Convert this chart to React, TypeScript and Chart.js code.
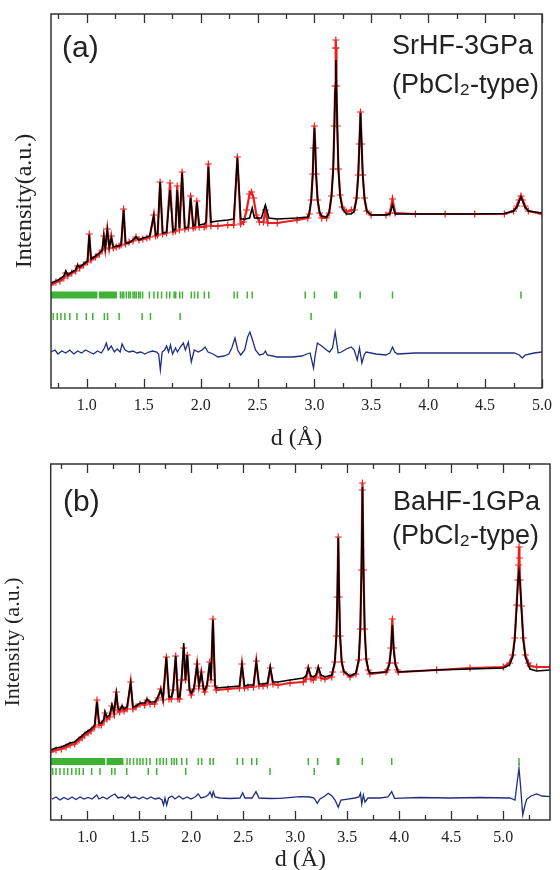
import React, { useEffect, useRef } from "react";
import { Chart, registerables } from "chart.js";

Chart.register(...registerables);

const SERIF = "'Liberation Serif', 'Times New Roman', serif";
const SANS = "'Liberation Sans', Arial, sans-serif";
const RED = "rgb(232,32,32)";
const BLACK = "#000";
const BLUE = "rgb(32,46,128)";
const GREEN = "rgb(62,178,52)";

type Pair = [number, number];

// ---------------- Panel (a): SrHF-3GPa ----------------
const X_RANGE_A: Pair = [0.685, 5.0];
const Y_MAX_A = 374;
const X_MAJOR_A = [1.0, 1.5, 2.0, 2.5, 3.0, 3.5, 4.0, 4.5, 5.0];
const X_MINOR_A = [0.75, 1.25, 1.75, 2.25, 2.75, 3.25, 3.75, 4.25, 4.75];

const CALC_A: Pair[] = [
  [0.685, 105], [0.728, 107], [0.763, 109], [0.798, 112], [0.815, 117], [0.833, 113], [0.867, 116],
  [0.902, 118], [0.919, 123], [0.937, 121], [0.971, 124], [1.006, 127], [1.021, 153], [1.037, 129],
  [1.076, 132], [1.11, 135], [1.136, 138], [1.149, 152], [1.162, 140], [1.18, 158], [1.197, 141],
  [1.215, 150], [1.232, 141], [1.258, 142], [1.284, 142], [1.302, 144], [1.323, 178], [1.34, 145],
  [1.371, 145], [1.406, 148], [1.432, 151], [1.458, 148], [1.492, 150], [1.527, 151], [1.553, 152],
  [1.588, 172], [1.605, 153], [1.622, 154], [1.644, 206], [1.666, 155], [1.701, 156], [1.731, 198],
  [1.757, 157], [1.779, 159], [1.794, 198], [1.814, 160], [1.837, 215], [1.861, 160], [1.892, 161],
  [1.912, 190], [1.935, 162], [1.952, 163], [1.967, 186], [1.987, 163], [2.031, 164], [2.048, 166],
  [2.068, 221], [2.09, 166], [2.152, 167], [2.239, 168], [2.291, 169], [2.323, 230], [2.352, 169],
  [2.395, 169], [2.43, 170], [2.453, 180], [2.473, 170], [2.534, 170], [2.569, 183], [2.599, 170],
  [2.673, 169], [2.847, 170], [2.942, 171], [2.955, 175], [2.972, 188], [2.985, 213], [2.992, 238],
  [3.0, 260], [3.008, 238], [3.015, 213], [3.028, 188], [3.045, 176], [3.064, 172], [3.107, 171],
  [3.13, 176], [3.15, 192], [3.165, 218], [3.175, 260], [3.182, 298], [3.188, 328], [3.194, 298],
  [3.201, 260], [3.211, 218], [3.226, 192], [3.246, 179], [3.281, 174], [3.324, 174], [3.35, 177],
  [3.37, 189], [3.385, 212], [3.395, 243], [3.405, 275], [3.415, 243], [3.425, 212], [3.44, 189],
  [3.46, 177], [3.498, 173], [3.628, 173], [3.663, 174], [3.686, 183], [3.71, 174], [3.888, 174],
  [4.149, 174], [4.409, 174], [4.669, 174.5], [4.75, 177], [4.78, 181], [4.8, 187], [4.815, 191],
  [4.83, 187], [4.85, 181], [4.88, 177], [5.0, 175],
];

const OBS_A: Pair[] = [
  [0.685, 103], [0.728, 106], [0.763, 107], [0.798, 110], [0.815, 115], [0.833, 112], [0.867, 115],
  [0.902, 117], [0.919, 122], [0.937, 120], [0.971, 123], [1.006, 126], [1.021, 154], [1.037, 128],
  [1.076, 131], [1.11, 134], [1.136, 138], [1.149, 152], [1.162, 139], [1.18, 159], [1.197, 140],
  [1.215, 152], [1.232, 140], [1.258, 141], [1.284, 142], [1.302, 143], [1.323, 179], [1.34, 144],
  [1.371, 146], [1.406, 147], [1.432, 151], [1.458, 148], [1.492, 149], [1.527, 150], [1.553, 151],
  [1.588, 173], [1.605, 152], [1.622, 153], [1.644, 206], [1.666, 154], [1.701, 155], [1.731, 205],
  [1.757, 156], [1.779, 157], [1.794, 202], [1.814, 158], [1.837, 216], [1.861, 159], [1.892, 160],
  [1.912, 192], [1.935, 160], [1.952, 161], [1.967, 187], [1.987, 161], [2.031, 161], [2.048, 162],
  [2.068, 224], [2.09, 162], [2.152, 162], [2.239, 163], [2.291, 163], [2.323, 231], [2.352, 164],
  [2.378, 166], [2.404, 178], [2.43, 194], [2.447, 196], [2.465, 190], [2.49, 173], [2.517, 166],
  [2.552, 166], [2.569, 178], [2.59, 165], [2.673, 165], [2.847, 168], [2.942, 170], [2.955, 174],
  [2.972, 188], [2.985, 214], [2.992, 240], [3.0, 262], [3.008, 240], [3.015, 214], [3.028, 188],
  [3.045, 175], [3.064, 170], [3.107, 170], [3.13, 175], [3.15, 192], [3.165, 219], [3.175, 262],
  [3.182, 302], [3.186, 340], [3.188, 348], [3.19, 340], [3.194, 302], [3.201, 262], [3.211, 219],
  [3.226, 193], [3.246, 181], [3.281, 176], [3.324, 178], [3.35, 178], [3.37, 190], [3.385, 213],
  [3.395, 244], [3.405, 276], [3.415, 244], [3.425, 213], [3.44, 190], [3.46, 177], [3.498, 173],
  [3.628, 173], [3.663, 175], [3.686, 189], [3.71, 175], [3.888, 174], [4.149, 174], [4.409, 174],
  [4.669, 174], [4.75, 177], [4.78, 182], [4.8, 188], [4.815, 192], [4.83, 188], [4.85, 182],
  [4.88, 177], [5.0, 174],
];

const DIFF_A: Pair[] = [
  [0.685, 36], [0.72, 38], [0.746, 34], [0.78, 37], [0.815, 35], [0.85, 38], [0.885, 34], [0.919, 37],
  [0.954, 35], [0.989, 38], [1.024, 36], [1.058, 34], [1.093, 37], [1.128, 35], [1.154, 40], [1.171, 45],
  [1.188, 38], [1.215, 42], [1.241, 36], [1.267, 39], [1.293, 36], [1.31, 44], [1.336, 38], [1.371, 36],
  [1.406, 37], [1.44, 35], [1.475, 36], [1.51, 34], [1.544, 36], [1.579, 37], [1.614, 36], [1.631, 34],
  [1.646, 18], [1.662, 36], [1.683, 38], [1.701, 42], [1.718, 36], [1.735, 43], [1.753, 34], [1.779, 40],
  [1.796, 36], [1.822, 41], [1.848, 45], [1.866, 38], [1.892, 46], [1.918, 26], [1.944, 38], [1.979, 36],
  [2.013, 38], [2.039, 41], [2.065, 36], [2.109, 34], [2.152, 31], [2.204, 32], [2.248, 34], [2.274, 40],
  [2.302, 50], [2.326, 38], [2.352, 33], [2.387, 38], [2.413, 51], [2.433, 56], [2.456, 48], [2.482, 38],
  [2.517, 33], [2.552, 34], [2.569, 37], [2.586, 33], [2.673, 31], [2.803, 31], [2.89, 32], [2.933, 34],
  [2.962, 35], [2.992, 20], [3.007, 33], [3.026, 45], [3.064, 42], [3.107, 38], [3.133, 36], [3.159, 40],
  [3.182, 56], [3.209, 35], [3.237, 36], [3.281, 39], [3.324, 41], [3.35, 38], [3.376, 28], [3.396, 40],
  [3.417, 25], [3.437, 33], [3.454, 36], [3.541, 34], [3.628, 33], [3.663, 35], [3.686, 41], [3.706, 36],
  [3.73, 34], [3.888, 35], [4.149, 35], [4.409, 35], [4.583, 35], [4.756, 35], [4.8, 33], [4.826, 30],
  [4.852, 33], [4.93, 35], [5.0, 36],
];

const TICK_ROWS_A = [93, 71.5];
const TICK_BLOCKS_A1: Pair[] = [[0.685, 1.093], [1.107, 1.264]];
const TICKS_A1 = [
  1.295, 1.31, 1.325, 1.347, 1.368, 1.382, 1.406, 1.42, 1.434, 1.455, 1.469, 1.49, 1.55, 1.59, 1.623,
  1.657, 1.701, 1.729, 1.767, 1.781, 1.816, 1.84, 1.918, 1.946, 1.976, 2.033, 2.071, 2.294, 2.323, 2.41,
  2.453, 2.919, 3.0, 3.179, 3.194, 3.402, 3.686, 4.815,
];
const TICKS_A2 = [
  0.705, 0.74, 0.772, 0.807, 0.85, 0.913, 0.995, 1.052, 1.154, 1.182, 1.284, 1.486, 1.559, 1.82, 2.971,
];

// ---------------- Panel (b): BaHF-1GPa ----------------
const X_RANGE_B: Pair = [0.648, 5.449];
const Y_MAX_B = 356;
const X_MAJOR_B = [1.0, 1.5, 2.0, 2.5, 3.0, 3.5, 4.0, 4.5, 5.0];
const X_MINOR_B = [0.75, 1.25, 1.75, 2.25, 2.75, 3.25, 3.75, 4.25, 4.75, 5.25];

const CALC_B: Pair[] = [
  [0.648, 70], [0.699, 72], [0.75, 73], [0.795, 75], [0.834, 77], [0.879, 78], [0.92, 82], [0.949, 84],
  [0.975, 87], [1.007, 89], [1.036, 91], [1.071, 95], [1.093, 118], [1.113, 97], [1.135, 97], [1.16, 101],
  [1.17, 108], [1.189, 103], [1.215, 105], [1.237, 115], [1.257, 108], [1.279, 127], [1.295, 112],
  [1.311, 110], [1.334, 114], [1.353, 111], [1.382, 113], [1.417, 137], [1.439, 113], [1.468, 114],
  [1.507, 117], [1.552, 117], [1.574, 121], [1.603, 118], [1.648, 118], [1.68, 123], [1.706, 130],
  [1.728, 121], [1.76, 163], [1.786, 123], [1.808, 123], [1.825, 130], [1.85, 164], [1.872, 123],
  [1.888, 123], [1.906, 140], [1.927, 177], [1.944, 140], [1.961, 165], [1.983, 130], [2.0, 127],
  [2.026, 132], [2.055, 155], [2.074, 135], [2.096, 147], [2.117, 132], [2.129, 130], [2.151, 135],
  [2.177, 157], [2.189, 140], [2.208, 200], [2.228, 135], [2.24, 132], [2.353, 133], [2.463, 134],
  [2.487, 155], [2.511, 134], [2.545, 135], [2.598, 135], [2.625, 158], [2.651, 136], [2.689, 136],
  [2.732, 137], [2.759, 153], [2.785, 138], [2.834, 138], [2.949, 140], [3.077, 142], [3.103, 144],
  [3.125, 152], [3.151, 144], [3.173, 143], [3.199, 145], [3.221, 153], [3.247, 145], [3.285, 143],
  [3.35, 145], [3.36, 149], [3.38, 158], [3.395, 183], [3.404, 222], [3.413, 282], [3.422, 222],
  [3.431, 183], [3.446, 158], [3.466, 149], [3.526, 144], [3.583, 147], [3.61, 160], [3.625, 190],
  [3.636, 248], [3.646, 333], [3.656, 248], [3.667, 190], [3.682, 161], [3.702, 150], [3.718, 147],
  [3.872, 148], [3.885, 150], [3.905, 156], [3.92, 170], [3.933, 195], [3.946, 170], [3.961, 156],
  [3.981, 150], [3.99, 148], [4.359, 150], [4.68, 151], [5.0, 152], [5.06, 155], [5.09, 163],
  [5.11, 180], [5.128, 212], [5.141, 238], [5.151, 248], [5.161, 238], [5.174, 212], [5.192, 180],
  [5.212, 163], [5.24, 155], [5.257, 151], [5.321, 149], [5.449, 150],
];

const OBS_B: Pair[] = [
  [0.648, 68], [0.699, 70], [0.75, 71], [0.795, 73], [0.834, 75], [0.879, 76], [0.92, 80], [0.949, 82],
  [0.975, 85], [1.007, 87], [1.036, 89], [1.071, 93], [1.093, 120], [1.113, 95], [1.135, 95], [1.16, 99],
  [1.17, 107], [1.189, 101], [1.215, 103], [1.237, 114], [1.257, 106], [1.279, 128], [1.295, 110],
  [1.311, 108], [1.334, 113], [1.353, 109], [1.382, 111], [1.417, 138], [1.439, 111], [1.468, 113],
  [1.507, 116], [1.552, 115], [1.574, 120], [1.603, 116], [1.648, 116], [1.68, 122], [1.706, 131],
  [1.728, 120], [1.76, 163], [1.786, 121], [1.808, 121], [1.825, 130], [1.85, 164], [1.872, 121],
  [1.888, 121], [1.906, 140], [1.927, 172], [1.944, 140], [1.961, 165], [1.983, 130], [2.0, 125],
  [2.026, 131], [2.055, 156], [2.074, 134], [2.096, 148], [2.117, 131], [2.129, 128], [2.151, 134],
  [2.177, 158], [2.189, 140], [2.208, 201], [2.228, 134], [2.24, 130], [2.353, 131], [2.463, 132],
  [2.487, 156], [2.511, 132], [2.545, 133], [2.598, 133], [2.625, 159], [2.651, 134], [2.689, 134],
  [2.732, 135], [2.759, 152], [2.785, 136], [2.834, 135], [2.949, 137], [3.077, 138], [3.103, 141],
  [3.125, 152], [3.151, 141], [3.173, 140], [3.199, 143], [3.221, 152], [3.247, 142], [3.285, 141],
  [3.35, 143], [3.36, 148], [3.38, 158], [3.395, 184], [3.404, 223], [3.413, 283], [3.422, 223],
  [3.431, 184], [3.446, 158], [3.466, 148], [3.526, 143], [3.583, 146], [3.61, 160], [3.625, 191],
  [3.636, 250], [3.644, 330], [3.646, 337], [3.656, 250], [3.667, 191], [3.682, 161], [3.702, 150],
  [3.718, 146], [3.872, 148], [3.885, 150], [3.905, 157], [3.92, 172], [3.933, 201], [3.946, 172],
  [3.961, 157], [3.981, 150], [3.99, 148], [4.359, 150], [4.68, 152], [5.0, 153], [5.06, 157],
  [5.09, 165], [5.11, 182], [5.128, 215], [5.141, 240], [5.147, 255], [5.151, 273], [5.155, 262],
  [5.161, 240], [5.174, 214], [5.192, 182], [5.212, 165], [5.24, 157], [5.257, 154], [5.321, 153],
  [5.449, 153],
];

const DIFF_B: Pair[] = [
  [0.658, 20.7], [0.699, 23], [0.737, 20], [0.776, 22.5], [0.814, 20.5], [0.853, 23], [0.891, 20.5],
  [0.93, 23], [0.968, 21], [1.007, 22.5], [1.045, 21], [1.09, 25], [1.112, 21], [1.151, 23], [1.189, 21],
  [1.228, 24], [1.266, 26], [1.295, 22], [1.334, 23], [1.362, 21], [1.394, 25], [1.42, 22], [1.459, 23],
  [1.497, 21], [1.535, 23], [1.574, 21], [1.612, 23], [1.651, 21], [1.689, 22], [1.718, 20], [1.733, 15],
  [1.747, 22], [1.763, 15], [1.781, 22], [1.814, 24], [1.843, 21], [1.882, 24], [1.92, 21], [1.959, 23],
  [1.997, 21], [2.036, 23], [2.067, 26], [2.093, 22], [2.132, 23], [2.161, 25], [2.18, 28], [2.199, 23],
  [2.211, 28.3], [2.228, 23], [2.276, 22], [2.372, 21.5], [2.468, 22], [2.494, 27.3], [2.516, 22],
  [2.584, 22], [2.622, 28.3], [2.651, 22], [2.757, 21.5], [2.853, 21.7], [3.045, 23.3], [3.141, 23],
  [3.18, 22], [3.211, 16.7], [3.237, 21], [3.285, 24], [3.317, 26.7], [3.353, 24], [3.382, 20],
  [3.413, 12.7], [3.439, 20], [3.487, 20.7], [3.574, 22], [3.612, 23], [3.627, 26.7], [3.639, 16],
  [3.654, 25], [3.67, 18], [3.699, 22], [3.814, 22], [3.891, 23], [3.927, 28.3], [3.954, 21.7],
  [4.199, 22.5], [4.487, 22], [4.776, 22.5], [5.064, 22], [5.112, 20], [5.136, 40], [5.151, 51.7],
  [5.165, 35], [5.187, 5], [5.209, 15], [5.225, 20.7], [5.266, 24], [5.321, 26], [5.372, 24], [5.449, 23.3],
];

const TICK_ROWS_B = [58.5, 48.5];
const TICK_BLOCKS_B1: Pair[] = [[0.648, 1.172], [1.185, 1.348]];
const TICKS_B1 = [
  1.382, 1.41, 1.444, 1.478, 1.507, 1.535, 1.569, 1.603, 1.667, 1.699, 1.731, 1.761, 1.811, 1.835, 1.859,
  1.908, 1.956, 2.067, 2.1, 2.18, 2.211, 2.442, 2.494, 2.581, 2.629, 3.125, 3.215, 3.404, 3.418, 3.644,
  3.927, 5.151,
];
const TICKS_B2 = [
  0.667, 0.699, 0.737, 0.776, 0.811, 0.85, 0.891, 0.923, 0.961, 1.042, 1.122, 1.235, 1.266, 1.379, 1.586,
  1.667, 1.946, 2.757, 3.182,
];

// ---------------- rendering ----------------
interface Spec {
  xRange: Pair;
  yMax: number;
  major: number[];
  minor: number[];
  calc: Pair[];
  obs: Pair[];
  diff: Pair[];
  rows: number[];
  blocks1: Pair[];
  ticks1: number[];
  ticks2: number[];
  yTitle: string;
  yTitleSize: number;
  yTitlePad: number;
  xTitlePadBottom: number;
  yAxisW: number;
  xAxisH: number;
  padTop: number;
  padRight: number;
  label: string;
  line1: string;
  line2: string;
  labelPos: Pair;
  line1Pos: Pair;
  line2Pos: Pair;
}

const xy = (arr: Pair[]) => arr.map(([x, y]) => ({ x, y }));

function decorPlugin(spec: Spec) {
  return {
    id: "decor",
    afterDraw(chart: any) {
      const { ctx, chartArea } = chart;
      const { left, top, right, bottom } = chartArea;
      const xs = chart.scales.x;
      ctx.save();
      ctx.strokeStyle = "#333";
      ctx.lineWidth = 1.5;
      ctx.strokeRect(left, top, right - left, bottom - top);
      ctx.lineWidth = 1.3;
      const tick = (v: number, len: number) => {
        const px = Math.round(xs.getPixelForValue(v)) + 0.5;
        ctx.beginPath();
        ctx.moveTo(px, bottom);
        ctx.lineTo(px, bottom - len);
        ctx.moveTo(px, top);
        ctx.lineTo(px, top + len);
        ctx.stroke();
      };
      spec.major.forEach((v) => tick(v, 9));
      spec.minor.forEach((v) => tick(v, 5));
      ctx.fillStyle = "#222";
      ctx.textBaseline = "middle";
      ctx.textAlign = "left";
      ctx.font = `30px ${SANS}`;
      ctx.fillText(spec.label, spec.labelPos[0], spec.labelPos[1]);
      ctx.font = `27px ${SANS}`;
      ctx.fillText(spec.line1, spec.line1Pos[0], spec.line1Pos[1]);
      ctx.fillText(spec.line2, spec.line2Pos[0], spec.line2Pos[1]);
      ctx.restore();
    },
  };
}

function buildConfig(spec: Spec): any {
  const datasets: any[] = [
    {
      data: xy(spec.calc),
      showLine: true,
      borderColor: BLACK,
      borderWidth: 1.6,
      pointRadius: 0,
      order: 1,
    },
    {
      data: xy(spec.obs),
      showLine: true,
      borderColor: RED,
      borderWidth: 2.2,
      pointStyle: "cross",
      pointRadius: 3.5,
      pointBorderColor: RED,
      pointBackgroundColor: RED,
      pointBorderWidth: 1.2,
      order: 2,
    },
    {
      data: xy(spec.diff),
      showLine: true,
      borderColor: BLUE,
      borderWidth: 1.3,
      pointRadius: 0,
      order: 3,
    },
  ];
  spec.blocks1.forEach((b) => {
    datasets.push({
      data: [
        { x: b[0], y: spec.rows[0] },
        { x: b[1], y: spec.rows[0] },
      ],
      showLine: true,
      borderColor: GREEN,
      borderWidth: 7,
      borderCapStyle: "butt",
      pointRadius: 0,
      order: 4,
    });
  });
  [spec.ticks1, spec.ticks2].forEach((list, i) => {
    datasets.push({
      data: list.map((d) => ({ x: d, y: spec.rows[i] })),
      showLine: false,
      pointStyle: "line",
      rotation: 90,
      pointRadius: 3.5,
      pointBorderColor: GREEN,
      pointBackgroundColor: GREEN,
      pointBorderWidth: 1.5,
      order: 4,
    });
  });

  return {
    type: "scatter",
    data: { datasets },
    options: {
      animation: false,
      responsive: false,
      maintainAspectRatio: false,
      events: [],
      layout: { padding: { top: spec.padTop, right: spec.padRight, left: 0, bottom: 0 } },
      plugins: { legend: { display: false }, tooltip: { enabled: false }, title: { display: false } },
      scales: {
        x: {
          type: "linear",
          position: "bottom",
          min: spec.xRange[0],
          max: spec.xRange[1],
          afterFit: (s: any) => {
            s.height = spec.xAxisH;
          },
          afterBuildTicks: (s: any) => {
            s.ticks = spec.major.map((v) => ({ value: v }));
          },
          ticks: {
            autoSkip: false,
            maxRotation: 0,
            padding: 8,
            color: "#222",
            font: { family: SERIF, size: 16 },
            callback: (v: any) => Number(v).toFixed(1),
          },
          grid: { display: false, drawTicks: false },
          border: { display: false },
          title: {
            display: true,
            text: "d (Å)",
            color: "#222",
            font: { family: SERIF, size: 24 },
            padding: { top: 0, bottom: spec.xTitlePadBottom },
          },
        },
        y: {
          type: "linear",
          min: 0,
          max: spec.yMax,
          afterFit: (s: any) => {
            s.width = spec.yAxisW;
          },
          ticks: { display: false },
          grid: { display: false, drawTicks: false },
          border: { display: false },
          title: {
            display: true,
            text: spec.yTitle,
            color: "#222",
            font: { family: SERIF, size: spec.yTitleSize },
            padding: { top: spec.yTitlePad, bottom: 0 },
          },
        },
      },
    },
    plugins: [decorPlugin(spec)],
  };
}

const SPEC_A: Spec = {
  xRange: X_RANGE_A,
  yMax: Y_MAX_A,
  major: X_MAJOR_A,
  minor: X_MINOR_A,
  calc: CALC_A,
  obs: OBS_A,
  diff: DIFF_A,
  rows: TICK_ROWS_A,
  blocks1: TICK_BLOCKS_A1,
  ticks1: TICKS_A1,
  ticks2: TICKS_A2,
  yTitle: "Intensity(a.u.)",
  yTitleSize: 24,
  yTitlePad: 10,
  xTitlePadBottom: -3,
  yAxisW: 51,
  xAxisH: 62,
  padTop: 14,
  padRight: 12,
  label: "(a)",
  line1: "SrHF-3GPa",
  line2: "(PbCl₂-type)",
  labelPos: [62, 49],
  line1Pos: [392, 47],
  line2Pos: [392, 86],
};

const SPEC_B: Spec = {
  xRange: X_RANGE_B,
  yMax: Y_MAX_B,
  major: X_MAJOR_B,
  minor: X_MINOR_B,
  calc: CALC_B,
  obs: OBS_B,
  diff: DIFF_B,
  rows: TICK_ROWS_B,
  blocks1: TICK_BLOCKS_B1,
  ticks1: TICKS_B1,
  ticks2: TICKS_B2,
  yTitle: "Intensity (a.u.)",
  yTitleSize: 22,
  yTitlePad: 0,
  xTitlePadBottom: -4,
  yAxisW: 50.7,
  xAxisH: 50,
  padTop: 14,
  padRight: 10,
  label: "(b)",
  line1: "BaHF-1GPa",
  line2: "(PbCl₂-type)",
  labelPos: [63, 53],
  line1Pos: [393, 53],
  line2Pos: [392, 87],
};

function Panel({ spec, top, height }: { spec: Spec; top: number; height: number }) {
  const ref = useRef<HTMLCanvasElement | null>(null);
  useEffect(() => {
    if (!ref.current) return;
    const chart = new Chart(ref.current, buildConfig(spec));
    return () => chart.destroy();
  }, [spec]);
  return (
    <canvas
      ref={ref}
      width={560}
      height={height}
      style={{ position: "absolute", left: 0, top, width: 560, height }}
    />
  );
}

export default function App() {
  return (
    <div style={{ position: "absolute", left: 0, top: 0, width: 560, height: 870, background: "#fff" }}>
      <Panel spec={SPEC_A} top={0} height={450} />
      <Panel spec={SPEC_B} top={450} height={420} />
    </div>
  );
}
